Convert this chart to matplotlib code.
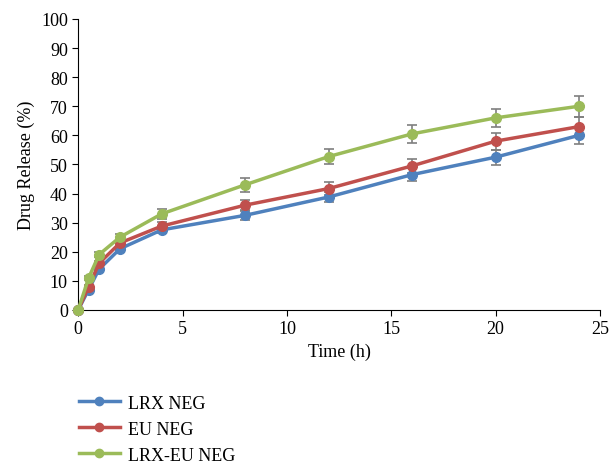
import matplotlib.pyplot as plt
from matplotlib.lines import Line2D

plt.rcParams['font.family'] = ['Liberation Serif', 'DejaVu Serif']

# Datos
tiempo = [0, 0.5, 1, 2, 4, 8, 12, 16, 20, 24]
lrx = [0, 7, 14, 21, 27.5, 32.5, 38.8, 46.5, 52.5, 60]
eu = [0, 8, 16, 23, 28.8, 36, 41.7, 49.5, 58, 63]
lrx_eu = [0, 11, 19, 25, 33, 43, 52.7, 60.5, 66, 70]
err_lrx = [0, 0.6, 0.8, 1.0, 1.2, 1.5, 1.7, 2.2, 2.6, 3.0]
err_eu = [0, 0.7, 0.9, 1.0, 1.4, 1.8, 2.2, 2.5, 2.9, 3.3]
err_lrx_eu = [0, 0.8, 0.9, 1.0, 1.8, 2.4, 2.6, 3.0, 3.2, 3.6]

series = [
    ('LRX NEG', lrx, err_lrx, '#4F81BD'),
    ('EU NEG', eu, err_eu, '#C0504D'),
    ('LRX-EU NEG', lrx_eu, err_lrx_eu, '#9BBB59'),
]

fig = plt.figure(figsize=(6.11, 4.64), dpi=100)
ax = fig.add_axes([0.128, 0.330, 0.854, 0.627])

handles = []
for nombre, vals, err, color in series:
    ax.errorbar(tiempo, vals, yerr=err, color=color, ecolor='#7F7F7F',
                elinewidth=1.2, capsize=3.5, capthick=1.2, marker='o',
                markersize=7, linewidth=2.5, zorder=3, clip_on=False)
    handles.append(Line2D([], [], color=color, marker='o', markersize=6,
                          linewidth=2.5, label=nombre))

ax.set_xlim(0, 25)
ax.set_ylim(0, 100)
ax.set_xticks(range(0, 26, 5))
ax.set_yticks(range(0, 101, 10))
ax.spines['top'].set_visible(False)
ax.spines['right'].set_visible(False)
ax.tick_params(labelsize=13, direction='out', length=4)
ax.set_xlabel('Time (h)', fontsize=13)
ax.set_ylabel('Drug Release (%)', fontsize=13)

fig.legend(handles=handles, loc='upper left', bbox_to_anchor=(0.117, 0.163),
           frameon=False, fontsize=13, handlelength=2.3, labelspacing=0.5,
           borderaxespad=0, handletextpad=0.45)

fig.savefig('out.png', dpi=100)
